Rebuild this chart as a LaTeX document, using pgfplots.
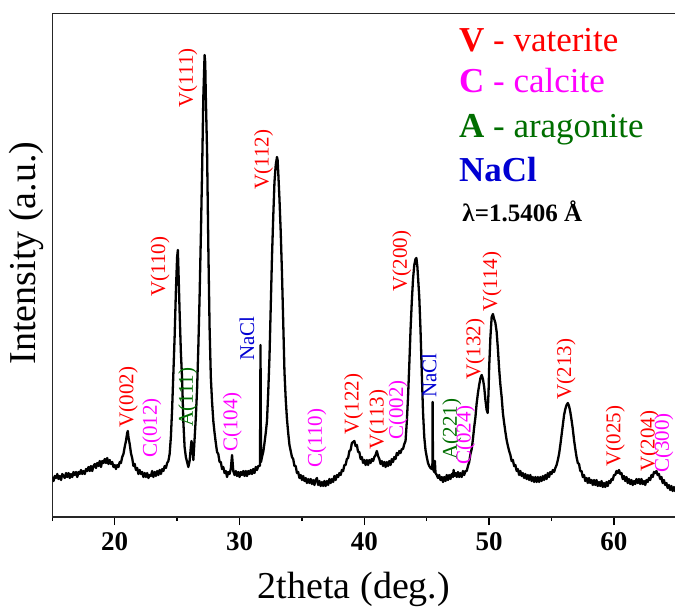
\documentclass[border=0pt]{standalone}
\usepackage{pgfplots}
\pgfplotsset{compat=1.18}
\usepackage{fontspec}
\setmainfont{Liberation Serif}
\definecolor{vred}{RGB}{255,0,0}
\definecolor{cmag}{RGB}{255,0,255}
\definecolor{agrn}{RGB}{0,110,0}
\definecolor{nblue}{RGB}{0,0,210}
\tikzset{lab/.style={rotate=90, anchor=west, inner sep=0pt, font=\fontsize{10.5}{12}\selectfont}}
\begin{document}
\begin{tikzpicture}
\path[use as bounding box] (-26.15pt,-45pt) rectangle (311.35pt,258.5pt);
\begin{axis}[
  at={(0,0)}, anchor=south west,
  scale only axis, width=312.05pt, height=251.85pt,
  xmin=15, xmax=65, ymin=0, ymax=503.7,
  xtick={20,30,...,60}, minor xtick={15,25,...,65}, ytick=\empty,
  xtick pos=bottom, tick align=outside,
  major tick length=4pt, minor tick length=2pt,
  axis line style={line width=0.7pt, black!85},
  every tick/.style={line width=0.7pt, black},
  /pgf/number format/assume math mode=true,
  xticklabel style={font=\bfseries\fontsize{13.5}{14}\selectfont},
  xlabel={2theta (deg.)},
  xlabel style={font=\fontsize{19}{22}\selectfont, at={([yshift=-40.5pt]axis description cs:0.4834,0)}, anchor=base},
  ylabel={Intensity (a.u.)},
  ylabel style={font=\fontsize{19}{22}\selectfont, at={([xshift=-8.65pt]axis description cs:0,0.524)}, anchor=base},
]
\addplot[black, line width=1.15pt, line join=round] coordinates {
(15.0,40) (15.1,36) (15.2,41) (15.3,39) (15.4,43) (15.5,38) (15.6,41) (15.7,37) (15.8,43) (15.9,41)
(16.0,39) (16.1,44) (16.2,40) (16.3,44) (16.4,39) (16.5,43) (16.6,40) (16.7,45) (16.8,42) (16.9,45)
(17.0,40) (17.1,45) (17.2,43) (17.3,47) (17.4,43) (17.5,46) (17.6,43) (17.7,48) (17.8,46) (17.9,50)
(18.0,46) (18.1,51) (18.2,46) (18.3,51) (18.4,53) (18.5,49) (18.6,54) (18.7,51) (18.8,56) (18.9,50)
(19.0,56) (19.1,54) (19.2,58) (19.3,54) (19.4,59) (19.5,53) (19.6,57) (19.7,53) (19.8,55) (19.9,50)
(20.0,52) (20.1,48) (20.2,52) (20.3,50) (20.4,55) (20.5,54) (20.6,60) (20.7,63) (20.8,70) (20.9,76)
(21.0,84) (21.05,86) (21.1,80) (21.2,73) (21.3,64) (21.4,59) (21.5,51) (21.6,53) (21.7,47) (21.8,49)
(21.9,43) (22.0,47) (22.1,43) (22.2,45) (22.3,40) (22.4,44) (22.5,40) (22.6,44) (22.7,39) (22.8,42)
(22.9,41) (23.0,46) (23.1,40) (23.2,45) (23.3,41) (23.4,46) (23.5,42) (23.6,47) (23.7,43) (23.8,48)
(23.9,46) (24.0,51) (24.1,49) (24.2,54) (24.3,56) (24.4,63) (24.5,80) (24.6,108) (24.7,144) (24.8,180)
(24.9,225) (25.0,260) (25.06,267) (25.1,250) (25.2,205) (25.3,165) (25.4,138) (25.5,95) (25.6,70) (25.7,60)
(25.8,55) (25.9,50) (26.0,56) (26.1,70) (26.15,76) (26.2,72) (26.3,57) (26.4,78) (26.5,100) (26.6,128)
(26.7,170) (26.8,220) (26.9,280) (27.0,345) (27.1,420) (27.2,462) (27.25,455) (27.3,420) (27.4,365) (27.5,270)
(27.6,190) (27.7,140) (27.8,115) (27.9,96) (28.0,84) (28.1,74) (28.2,65) (28.3,63) (28.4,55) (28.5,55)
(28.6,48) (28.7,50) (28.8,44) (28.9,46) (29.0,40) (29.1,45) (29.2,43) (29.3,48) (29.4,62) (29.5,46)
(29.6,42) (29.7,46) (29.8,41) (29.9,45) (30.0,40) (30.1,45) (30.2,42) (30.3,46) (30.4,41) (30.5,46)
(30.6,41) (30.7,46) (30.8,43) (30.9,47) (31.0,43) (31.1,48) (31.2,44) (31.3,50) (31.4,47) (31.5,51)
(31.6,51) (31.64,52) (31.68,172) (31.72,55) (31.8,60) (31.9,65) (32.0,74) (32.1,84) (32.2,96) (32.3,125)
(32.4,160) (32.5,210) (32.6,260) (32.7,300) (32.8,335) (32.9,352) (33.0,360) (33.05,357) (33.1,345) (33.2,318)
(33.3,285) (33.4,244) (33.5,195) (33.6,145) (33.7,118) (33.8,98) (33.9,84) (34.0,72) (34.1,66) (34.2,60)
(34.3,58) (34.4,51) (34.5,51) (34.6,44) (34.7,45) (34.8,39) (34.9,42) (35.0,37) (35.1,41) (35.2,36)
(35.3,39) (35.4,34) (35.5,38) (35.6,34) (35.7,38) (35.8,33) (35.9,37) (36.0,32) (36.1,37) (36.2,39)
(36.3,32) (36.4,36) (36.5,31) (36.6,35) (36.7,31) (36.8,36) (36.9,31) (37.0,36) (37.1,32) (37.2,38)
(37.3,34) (37.4,38) (37.5,35) (37.6,41) (37.7,37) (37.8,42) (37.9,40) (38.0,44) (38.1,42) (38.2,47)
(38.3,46) (38.4,52) (38.5,52) (38.6,58) (38.7,59) (38.8,66) (38.9,67) (39.0,74) (39.1,75) (39.2,76)
(39.3,71) (39.4,72) (39.5,65) (39.6,65) (39.7,58) (39.8,60) (39.9,54) (40.0,57) (40.1,52) (40.2,57)
(40.3,52) (40.4,57) (40.5,54) (40.6,58) (40.7,56) (40.8,60) (40.9,62) (41.0,66) (41.1,61) (41.2,58)
(41.3,53) (41.4,56) (41.5,51) (41.6,55) (41.7,50) (41.8,55) (41.9,51) (42.0,56) (42.1,52) (42.2,58)
(42.3,55) (42.4,60) (42.5,58) (42.6,64) (42.7,62) (42.8,66) (42.9,64) (43.0,68) (43.1,68) (43.2,73)
(43.3,76) (43.4,95) (43.5,120) (43.6,152) (43.7,187) (43.8,215) (43.9,238) (44.0,252) (44.1,258) (44.17,259)
(44.25,250) (44.3,240) (44.4,220) (44.5,187) (44.6,145) (44.7,105) (44.8,80) (44.9,67) (45.0,60) (45.1,54)
(45.2,51) (45.3,49) (45.4,48) (45.45,48) (45.47,115) (45.5,48) (45.6,45) (45.65,56) (45.7,44) (45.8,42)
(45.9,39) (46.0,42) (46.1,37) (46.2,40) (46.3,35) (46.4,40) (46.5,36) (46.6,42) (46.7,37) (46.8,42)
(46.9,38) (47.0,43) (47.1,40) (47.15,47) (47.2,41) (47.3,44) (47.4,40) (47.5,45) (47.6,40) (47.7,44)
(47.8,40) (47.9,46) (48.0,42) (48.1,46) (48.2,46) (48.3,51) (48.4,55) (48.5,63) (48.6,68) (48.7,78)
(48.8,90) (48.9,100) (49.0,114) (49.1,124) (49.2,132) (49.3,139) (49.4,142) (49.5,138) (49.6,130) (49.7,117)
(49.8,107) (49.88,104) (49.95,125) (50.0,150) (50.1,180) (50.2,200) (50.3,203) (50.4,198) (50.5,194) (50.6,185)
(50.7,168) (50.8,148) (50.9,132) (51.0,120) (51.1,104) (51.2,94) (51.3,85) (51.4,77) (51.5,71) (51.6,66)
(51.7,62) (51.8,56) (51.9,57) (52.0,51) (52.1,52) (52.2,46) (52.3,48) (52.4,42) (52.5,46) (52.6,41)
(52.7,44) (52.8,39) (52.9,43) (53.0,38) (53.1,42) (53.2,37) (53.3,42) (53.4,36) (53.5,40) (53.6,35)
(53.7,40) (53.8,35) (53.9,40) (54.0,35) (54.1,40) (54.2,36) (54.3,41) (54.4,37) (54.5,42) (54.6,38)
(54.7,44) (54.8,40) (54.9,45) (55.0,43) (55.1,47) (55.2,45) (55.3,49) (55.4,52) (55.5,57) (55.6,63)
(55.7,72) (55.8,82) (55.9,92) (56.0,102) (56.1,108) (56.2,112) (56.3,114) (56.4,111) (56.5,105) (56.6,97)
(56.7,88) (56.8,77) (56.9,68) (57.0,60) (57.1,54) (57.2,53) (57.3,46) (57.4,46) (57.5,40) (57.6,42)
(57.7,36) (57.8,39) (57.9,34) (58.0,39) (58.1,34) (58.2,37) (58.3,32) (58.4,37) (58.5,32) (58.6,37)
(58.7,31) (58.8,35) (58.9,31) (59.0,36) (59.1,30) (59.2,34) (59.3,30) (59.4,35) (59.5,31) (59.6,36)
(59.7,34) (59.8,38) (59.9,37) (60.0,42) (60.1,42) (60.2,46) (60.3,44) (60.4,47) (60.5,43) (60.6,44)
(60.7,38) (60.8,41) (60.9,36) (61.0,40) (61.1,34) (61.2,38) (61.3,33) (61.4,37) (61.5,32) (61.6,36)
(61.7,33) (61.8,38) (61.9,34) (62.0,38) (62.1,33) (62.2,38) (62.3,33) (62.4,36) (62.5,32) (62.6,37)
(62.7,35) (62.8,39) (62.9,37) (63.0,42) (63.1,40) (63.2,45) (63.3,44) (63.4,46) (63.5,42) (63.6,43)
(63.7,38) (63.8,40) (63.9,34) (64.0,37) (64.1,32) (64.2,34) (64.3,29) (64.4,32) (64.5,27) (64.6,31)
(64.7,26) (64.8,30) (64.9,26) (65.0,27)
};
\node[lab, text=vred] at (axis cs:21.1,89) {V(002)};
\node[lab, text=cmag] at (axis cs:22.97,59) {C(012)};
\node[lab, text=vred] at (axis cs:23.64,220) {V(110)};
\node[lab, text=agrn] at (axis cs:25.86,90) {A(111)};
\node[lab, text=vred] at (axis cs:25.86,409) {V(111)};
\node[lab, text=cmag] at (axis cs:29.43,65) {C(104)};
\node[lab, text=nblue] at (axis cs:30.6,156) {NaCl};
\node[lab, text=vred] at (axis cs:31.92,327) {V(112)};
\node[lab, text=cmag] at (axis cs:36.2,49) {C(110)};
\node[lab, text=vred] at (axis cs:39.14,82) {V(122)};
\node[lab, text=vred] at (axis cs:41.14,67) {V(113)};
\node[lab, text=cmag] at (axis cs:42.7,77) {C(002)};
\node[lab, text=vred] at (axis cs:43.0,225) {V(200)};
\node[lab, text=nblue] at (axis cs:45.2,119) {NaCl};
\node[lab, text=agrn] at (axis cs:47.0,57) {A(221)};
\node[lab, text=cmag] at (axis cs:48.1,52) {C(024)};
\node[lab, text=vred] at (axis cs:48.9,137) {V(132)};
\node[lab, text=vred] at (axis cs:50.24,205) {V(114)};
\node[lab, text=vred] at (axis cs:56.17,117) {V(213)};
\node[lab, text=vred] at (axis cs:60.1,50) {V(025)};
\node[lab, text=vred] at (axis cs:62.85,45) {V(204)};
\node[lab, text=cmag] at (axis cs:64.0,44) {C(300)};
\node[anchor=base west, inner sep=0pt, text=vred, font=\fontsize{17.5}{20}\selectfont] at (axis cs:47.56,465.3) {\textbf{V} - vaterite};
\node[anchor=base west, inner sep=0pt, text=cmag, font=\fontsize{17.5}{20}\selectfont] at (axis cs:47.56,424) {\textbf{C} - calcite};
\node[anchor=base west, inner sep=0pt, text=agrn, font=\fontsize{17.5}{20}\selectfont] at (axis cs:47.56,379) {\textbf{A} - aragonite};
\node[anchor=base west, inner sep=0pt, text=nblue, font=\bfseries\fontsize{17.5}{20}\selectfont] at (axis cs:47.56,335) {NaCl};
\node[anchor=base west, inner sep=0pt, text=black, font=\bfseries\fontsize{12.5}{14}\selectfont] at (axis cs:47.83,295) {λ=1.5406 Å};
\end{axis}
\end{tikzpicture}
\end{document}
